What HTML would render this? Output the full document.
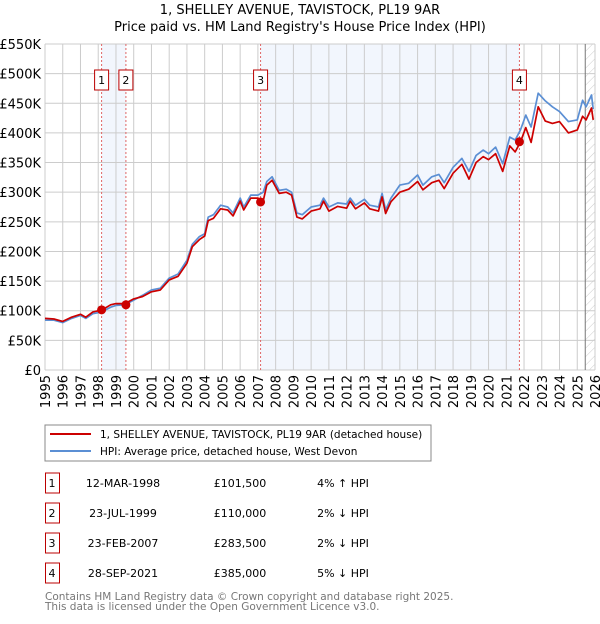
<!DOCTYPE html>
<html><head><meta charset="utf-8"><style>
body{margin:0;background:#fff;font-family:"DejaVu Sans","Liberation Sans",sans-serif;}
svg text{font-family:"DejaVu Sans","Liberation Sans",sans-serif;}
</style></head><body>
<svg id="c" width="600" height="620" xmlns="http://www.w3.org/2000/svg">
<defs><pattern id="hatch" width="6" height="6" patternUnits="userSpaceOnUse" patternTransform="rotate(45)"><line x1="0" y1="0" x2="0" y2="6" stroke="#ccc" stroke-width="1"/></pattern></defs>
<text x="300" y="14" text-anchor="middle" font-size="13">1, SHELLEY AVENUE, TAVISTOCK, PL19 9AR</text>
<text x="300" y="31" text-anchor="middle" font-size="13">Price paid vs. HM Land Registry's House Price Index (HPI)</text>
<g id="plot"></g>
<rect x="45" y="425" width="386" height="36" fill="#fff" stroke="#888"/>
<line x1="50" y1="434" x2="91" y2="434" stroke="#cc0000" stroke-width="2"/>
<text x="100" y="438" font-size="10.5">1, SHELLEY AVENUE, TAVISTOCK, PL19 9AR (detached house)</text>
<line x1="50" y1="451" x2="91" y2="451" stroke="#5b8fd4" stroke-width="2"/>
<text x="100" y="455" font-size="10.5">HPI: Average price, detached house, West Devon</text>
<g id="table" font-size="11"></g>
<text x="45" y="600" font-size="10.5" fill="#777">Contains HM Land Registry data © Crown copyright and database right 2025.</text>
<text x="45" y="610" font-size="10.5" fill="#777">This data is licensed under the Open Government Licence v3.0.</text>
</svg>
<script>
const times=[1995.0,1995.5,1996.0,1996.5,1997.0,1997.3,1997.7,1998.2,1998.7,1999.0,1999.5,2000.0,2000.5,2001.0,2001.5,2002.0,2002.5,2003.0,2003.3,2003.7,2004.0,2004.2,2004.5,2004.9,2005.3,2005.6,2006.0,2006.2,2006.6,2007.0,2007.3,2007.5,2007.8,2008.2,2008.6,2008.9,2009.2,2009.5,2010.0,2010.5,2010.7,2011.0,2011.5,2012.0,2012.2,2012.5,2013.0,2013.3,2013.8,2014.0,2014.2,2014.5,2015.0,2015.5,2016.0,2016.3,2016.8,2017.2,2017.5,2018.0,2018.5,2018.9,2019.3,2019.7,2020.0,2020.4,2020.8,2021.2,2021.5,2021.8,2022.1,2022.4,2022.8,2023.2,2023.6,2024.0,2024.5,2025.0,2025.3,2025.5,2025.8,2025.9];
const hpiValues=[84,84,80,87,92,87,95,98,106,109,110,118,126,135,138,155,162,185,212,225,230,258,262,278,275,265,290,275,295,295,300,318,326,303,305,300,265,262,275,278,290,275,282,280,290,278,288,278,275,298,270,290,312,315,329,312,326,330,316,342,357,335,362,371,365,376,348,393,388,405,430,410,467,454,444,436,419,422,455,444,464,440];
const propValues=[87,86,82,89,94,89,98,101,110,112,112,120,124,132,135,152,158,180,208,220,226,252,256,272,270,260,285,270,290,290,285,312,320,298,300,295,258,255,268,272,285,268,276,273,285,272,282,272,268,292,264,284,300,305,318,304,316,320,306,332,347,322,350,360,355,365,335,378,368,385,409,384,444,420,416,419,400,405,428,422,442,422];
const saleLabels=["1","2","3","4"];
const saleTimes=[1998.19,1999.56,2007.15,2021.74];
const salePrices=[101.5,110,283.5,385];
const saleDates=["12-MAR-1998","23-JUL-1999","23-FEB-2007","28-SEP-2021"];
const salePriceText=["£101,500","£110,000","£283,500","£385,000"];
const saleHpiText=["4% ↑ HPI","2% ↓ HPI","2% ↓ HPI","5% ↓ HPI"];
const yTicks=[0,50,100,150,200,250,300,350,400,450,500,550];
const yTickLabels=["£0","£50K","£100K","£150K","£200K","£250K","£300K","£350K","£400K","£450K","£500K","£550K"];
const xYears=[];for(let y=1995;y<=2026;y++)xYears.push(y);

const X0=45,X1=595,Y0=370,Y1=44;
const xs=t=>X0+(t-1995)/31*(X1-X0);
const ys=v=>Y0-v/550*(Y0-Y1);
const NS="http://www.w3.org/2000/svg";
const plot=document.getElementById('plot');
function mk(tag,attrs,parent){const e=document.createElementNS(NS,tag);for(const k in attrs)e.setAttribute(k,attrs[k]);(parent||plot).appendChild(e);return e;}

let r=mk('rect',{x:X0,y:Y1,width:X1-X0,height:Y0-Y1,fill:'#fff'});


for(let i=0;i<saleTimes.length;i+=2){
  const a=xs(saleTimes[i]),b=xs(saleTimes[i+1]);
  const s=mk('rect',{x:a,y:Y1,width:b-a,height:Y0-Y1,fill:'#eef3fc',opacity:0.75});
  
  
}
const hx=xs(2025.45);
const h=mk('rect',{x:hx,y:Y1,width:X1-hx,height:Y0-Y1,fill:'url(#hatch)'});


yTicks.forEach((v,i)=>{
  const g=mk('line',{x1:X0,x2:X1,y1:ys(v),y2:ys(v),stroke:'#ccc','stroke-width':1});
  
  
  const t=mk('text',{x:X0-4,y:ys(v)+5,'text-anchor':'end','font-size':13});
  t.textContent=yTickLabels[i];
  
  
});
xYears.forEach(y=>{
  const g=mk('line',{x1:xs(y),x2:xs(y),y1:Y1,y2:Y0,stroke:'#ccc','stroke-width':1});
  
  
  const t=mk('text',{x:0,y:0,'text-anchor':'end','font-size':13,transform:`translate(${xs(y)+5},${Y0+5}) rotate(-90)`});
  t.textContent=y;
  
  
});
const nl=mk('line',{x1:hx,x2:hx,y1:Y1,y2:Y0,stroke:'#777','stroke-width':1});


saleTimes.forEach((t,i)=>{
  const l=mk('line',{x1:xs(t),x2:xs(t),y1:Y1,y2:Y0,stroke:'#e06666','stroke-width':1,'stroke-dasharray':'2,2'});
  
  
  const b=mk('rect',{x:xs(t)-7,y:70,width:14,height:20,fill:'#fff',stroke:'#b00','stroke-width':1});
  
  
  const tx=mk('text',{x:xs(t),y:84,'text-anchor':'middle','font-size':11});
  tx.textContent=saleLabels[i];
  
  
});
const n=Math.min(times.length,hpiValues.length,propValues.length);
let dh='',dp='';
for(let i=0;i<n;i++){dh+=(i?'L':'M')+xs(times[i]).toFixed(1)+','+ys(hpiValues[i]).toFixed(1);dp+=(i?'L':'M')+xs(times[i]).toFixed(1)+','+ys(propValues[i]).toFixed(1);}
const ph=mk('path',{d:dh,fill:'none',stroke:'#5b8fd4','stroke-width':1.7,'stroke-linejoin':'round'});


const pp=mk('path',{d:dp,fill:'none',stroke:'#cc0000','stroke-width':1.7,'stroke-linejoin':'round'});


saleTimes.forEach((t,i)=>{
  const c=mk('circle',{cx:xs(t),cy:ys(salePrices[i]),r:4.5,fill:'#cc0000'});
  
  
});
const tb=document.getElementById('table');
saleLabels.forEach((l,i)=>{
  const y=483+i*30;
  const b=mk('rect',{x:45.5,y:y-10,width:14,height:20,fill:'#fff',stroke:'#b00'},tb);
  
  
  const cells=[[52,l],[123,saleDates[i]],[240,salePriceText[i]],[343,saleHpiText[i]]];
  cells.forEach(c=>{
    const t=mk('text',{x:c[0],y:y+4,'text-anchor':'middle'},tb);
    t.textContent=c[1];
    
    
  });
});
</script>
</body></html>
